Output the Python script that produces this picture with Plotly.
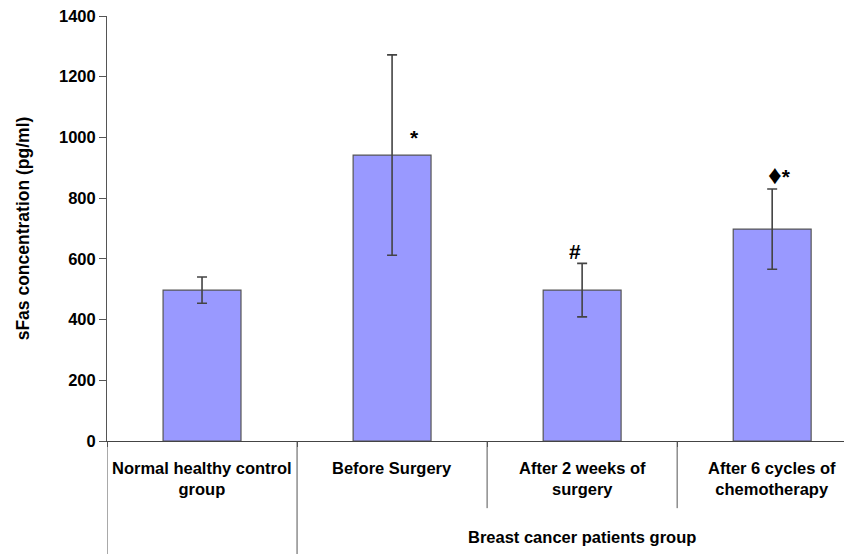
import plotly.graph_objects as go

categories = ["Normal healthy control<br>group", "Before Surgery", "After 2 weeks of<br>surgery", "After 6 cycles of<br>chemotherapy"]
means = [497, 942, 497, 698]
errors = [43, 330, 88, 132]
markers = ["", "*", "#", "\u2666*"]
marker_y = [None, 1000, 625, 875]
marker_dx = [0, 0.12, -0.04, 0.04]
group_label = "Breast cancer patients group"
yticks = [0, 200, 400, 600, 800, 1000, 1200, 1400]

FONT = "Arial, Liberation Sans, sans-serif"
x = list(range(len(categories)))

fig = go.Figure()
fig.add_trace(go.Bar(
    x=x, y=means, width=0.41,
    marker=dict(color="#9999FF", line=dict(color="#555555", width=1.2)),
    error_y=dict(type="data", array=errors, visible=True, color="#444444", thickness=1.6, width=5),
))

ann = []
for i, (m, my, dx) in enumerate(zip(markers, marker_y, marker_dx)):
    if m:
        txt = m.replace("\u2666", "<span style='font-size:27px'>\u2666</span>")
        ann.append(dict(x=i + dx, y=my, xref="x", yref="y", text="<b>" + txt + "</b>", showarrow=False,
                        font=dict(family=FONT, size=21, color="black")))
for i, c in enumerate(categories):
    ann.append(dict(x=i, y=-0.038, xref="x", yref="paper", text="<b>" + c + "</b>", showarrow=False,
                    yanchor="top", font=dict(family=FONT, size=16.5, color="black")))
ann.append(dict(x=2.0, y=-0.2, xref="x", yref="paper", text="<b>" + group_label + "</b>", showarrow=False,
                yanchor="top", font=dict(family=FONT, size=16.5, color="black")))

shapes = []
for bx, y0 in [(-0.5, -0.266), (0.5, -0.266), (1.5, -0.158), (2.5, -0.158)]:
    shapes.append(dict(type="line", xref="x", yref="paper", x0=bx, x1=bx, y0=0, y1=y0,
                       line=dict(color="#555555", width=1)))

fig.update_layout(
    width=844, height=546,
    margin=dict(l=99, r=0, t=8, b=113),
    paper_bgcolor="white", plot_bgcolor="white",
    showlegend=False,
    annotations=ann, shapes=shapes,
    xaxis=dict(range=[-0.5, 3.42], showticklabels=False, showgrid=False, zeroline=False,
               showline=True, linecolor="#444444", linewidth=1, ticks="outside", automargin=False,
               tickvals=[-0.5, 0.5, 1.5, 2.5], ticklen=5, tickcolor="#555555"),
    yaxis=dict(range=[0, 1400], tickvals=yticks, ticktext=["<b>%d</b>" % v for v in yticks],
               showgrid=False, zeroline=False, showline=True, linecolor="#555555", linewidth=1,
               ticks="outside", ticklen=7, tickcolor="#555555", automargin=False,
               ticklabeloverflow="allow",
               tickfont=dict(family=FONT, size=16.5, color="black"),
               title=dict(text="<b>sFas concentration (pg/ml)</b>", standoff=24,
                          font=dict(family=FONT, size=17.5, color="black"))),
)

fig.write_html("out.html")
